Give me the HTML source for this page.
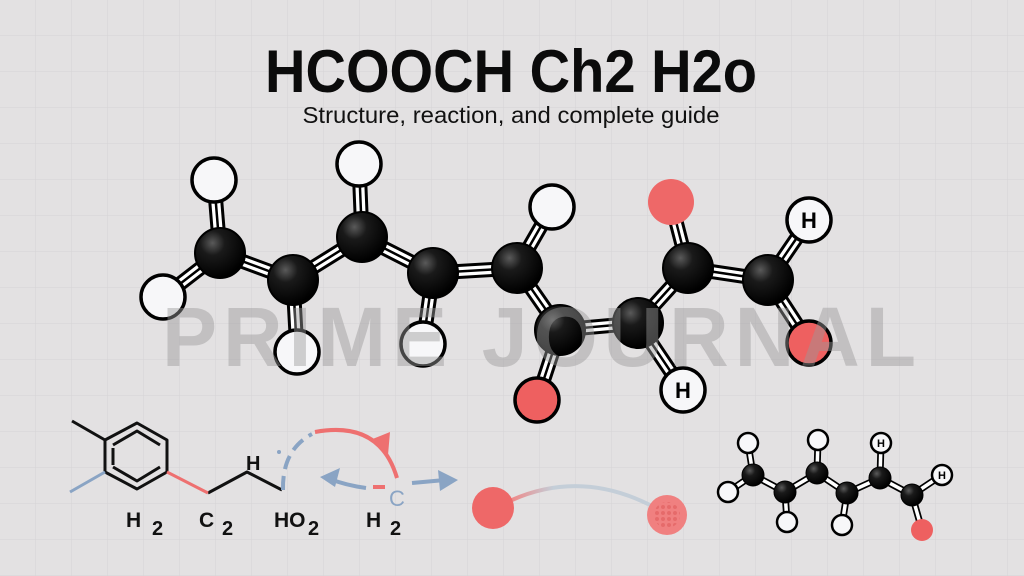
<!DOCTYPE html>
<html><head><meta charset="utf-8"><style>
html,body{margin:0;padding:0;background:#e3e1e2;}
svg{display:block}
</style></head><body>
<svg width="1024" height="576" viewBox="0 0 1024 576" xmlns="http://www.w3.org/2000/svg">
<defs>
<pattern id="g" width="36" height="36" patternUnits="userSpaceOnUse"><path d="M36 0V36M0 36H36" stroke="#d6d4d5" stroke-width="1" fill="none"/></pattern>
<radialGradient id="cb" cx="0.35" cy="0.3" r="0.7"><stop offset="0" stop-color="#5a5a5a"/><stop offset="0.35" stop-color="#1a1a1a"/><stop offset="1" stop-color="#000"/></radialGradient>
<linearGradient id="arcg" x1="0" x2="1"><stop offset="0" stop-color="#ee8a8a"/><stop offset="0.3" stop-color="#c4ced8"/><stop offset="1" stop-color="#c4ced8"/></linearGradient>
<pattern id="dots" width="6" height="6" patternUnits="userSpaceOnUse"><circle cx="3" cy="3" r="2" fill="#e66a6a"/></pattern>
</defs>
<rect width="1024" height="576" fill="#e3e1e2"/>
<rect width="1024" height="576" fill="url(#g)"/>
<text x="511" y="92" text-anchor="middle" font-family="Liberation Sans, sans-serif" font-weight="bold" font-size="60" textLength="492" lengthAdjust="spacingAndGlyphs" fill="#0b0b0b">HCOOCH Ch2 H2o</text>
<text x="511" y="123" text-anchor="middle" font-family="Liberation Sans, sans-serif" font-size="23" textLength="417" lengthAdjust="spacingAndGlyphs" fill="#111">Structure, reaction, and complete guide</text>

<!-- big molecule bonds -->
<g stroke-linecap="round" fill="none">
<g stroke="#000" stroke-width="15">
<path d="M220 253L214 180M220 253L163 297M220 253L293 280L362 237L433 273L517 268L560 330L638 323L688 268L768 280M293 280L297 352M362 237L359 164M433 273L423 344M517 268L552 207M560 330L537 400M638 323L683 390M688 268L671 202M768 280L809 220M768 280L809 343"/>
</g>
<g stroke="#fff" stroke-width="9">
<path d="M220 253L214 180M220 253L163 297M220 253L293 280L362 237L433 273L517 268L560 330L638 323L688 268L768 280M293 280L297 352M362 237L359 164M433 273L423 344M517 268L552 207M560 330L537 400M638 323L683 390M688 268L671 202M768 280L809 220M768 280L809 343"/>
</g>
<g stroke="#000" stroke-width="2.5">
<path d="M220 253L214 180M220 253L163 297M220 253L293 280L362 237L433 273L517 268L560 330L638 323L688 268L768 280M293 280L297 352M362 237L359 164M433 273L423 344M517 268L552 207M560 330L537 400M638 323L683 390M688 268L671 202M768 280L809 220M768 280L809 343"/>
</g>
</g>
<g stroke="#000" stroke-width="3.5" fill="#f7f7f9">
<circle cx="214" cy="180" r="22"/><circle cx="163" cy="297" r="22"/><circle cx="297" cy="352" r="22"/>
<circle cx="359" cy="164" r="22"/><circle cx="423" cy="344" r="22"/><circle cx="552" cy="207" r="22"/>
<circle cx="683" cy="390" r="22"/><circle cx="809" cy="220" r="22"/>
<circle cx="537" cy="400" r="22" fill="#ee6060"/><circle cx="809" cy="343" r="22" fill="#ee6060"/>
</g>
<circle cx="671" cy="202" r="23" fill="#ee6868"/>
<g fill="url(#cb)" stroke="#000" stroke-width="2">
<circle cx="220" cy="253" r="25"/><circle cx="293" cy="280" r="25"/><circle cx="362" cy="237" r="25"/><circle cx="433" cy="273" r="25"/><circle cx="517" cy="268" r="25"/><circle cx="560" cy="330" r="25"/><circle cx="638" cy="323" r="25"/><circle cx="688" cy="268" r="25"/><circle cx="768" cy="280" r="25"/>
</g>
<g font-family="Liberation Sans, sans-serif" font-weight="bold" font-size="22" text-anchor="middle" fill="#000">
<text x="683" y="398">H</text><text x="809" y="228">H</text>
</g>
<text x="542" y="366" text-anchor="middle" font-family="Liberation Sans, sans-serif" font-weight="bold" font-size="84" letter-spacing="6" textLength="760" lengthAdjust="spacingAndGlyphs" fill="#9a9a9a" fill-opacity="0.45">PRIME JOURNAL</text>

<!-- bottom left structure -->
<g fill="none" stroke="#111" stroke-width="3" stroke-linejoin="round">
<path d="M72 421L105 440"/>
<path d="M105 440L137 423L167 440L167 472L137 489L105 472Z"/>
<path d="M113 445L137 431L160 445M160 467L137 481L113 467M113 448V465"/>
<path d="M208 493L247 472L282 490"/>
</g>
<path d="M105 472L70 492" stroke="#8aa4c4" stroke-width="3"/>
<path d="M167 472L208 493" stroke="#ee7070" stroke-width="3"/>
<g font-family="Liberation Sans, sans-serif" font-weight="bold" fill="#111">
<text x="246" y="470" font-size="20">H</text>
<text x="126" y="527" font-size="21">H</text><text x="152" y="535" font-size="20">2</text>
<text x="199" y="527" font-size="21">C</text><text x="222" y="535" font-size="20">2</text>
<text x="274" y="527" font-size="21">HO</text><text x="308" y="535" font-size="20">2</text>
<text x="366" y="527" font-size="21">H</text><text x="390" y="535" font-size="20">2</text>
</g>
<path d="M283 490Q282 450 312 434" fill="none" stroke="#8aa4c4" stroke-width="4" stroke-dasharray="14 7"/>
<circle cx="279" cy="452" r="2" fill="#8aa4c4"/>
<path d="M315 432Q380 420 397 478" fill="none" stroke="#ee7070" stroke-width="4"/>
<path d="M370 440L390 432L388 455Z" fill="#ee7070"/>
<path d="M366 488Q345 485 330 479" fill="none" stroke="#8aa4c4" stroke-width="4"/>
<path d="M320 477L340 468L335 487Z" fill="#8aa4c4"/>
<path d="M373 487H385" stroke="#ee7070" stroke-width="4"/>
<text x="389" y="506" font-family="Liberation Sans, sans-serif" font-size="22" fill="#8aa4c4">C</text>
<path d="M412 483L445 480" stroke="#8aa4c4" stroke-width="4"/>
<path d="M458 480L438 470L440 491Z" fill="#8aa4c4"/>

<!-- bottom middle -->
<path d="M512 500Q580 470 650 505" fill="none" stroke="url(#arcg)" stroke-width="4"/>
<circle cx="493" cy="508" r="21" fill="#ee6868"/>
<circle cx="667" cy="515" r="20" fill="#f08080"/>
<circle cx="667" cy="515" r="13" fill="url(#dots)"/>

<!-- small molecule -->
<g stroke-linecap="round" fill="none">
<g stroke="#000" stroke-width="7"><path d="M753 475L748 443M753 475L728 492M753 475L785 492L817 473L847 493L880 478L912 495M785 492L787 522M817 473L818 440M847 493L842 525M880 478L881 443M912 495L942 475M912 495L922 530"/></g>
<g stroke="#fff" stroke-width="3.5"><path d="M753 475L748 443M753 475L728 492M753 475L785 492L817 473L847 493L880 478L912 495M785 492L787 522M817 473L818 440M847 493L842 525M880 478L881 443M912 495L942 475M912 495L922 530"/></g>
</g>
<g stroke="#000" stroke-width="2.5" fill="#f7f7f9">
<circle cx="748" cy="443" r="10"/><circle cx="728" cy="492" r="10"/><circle cx="787" cy="522" r="10"/><circle cx="818" cy="440" r="10"/><circle cx="842" cy="525" r="10"/><circle cx="881" cy="443" r="10"/><circle cx="942" cy="475" r="10"/>
</g>
<circle cx="922" cy="530" r="11" fill="#ee6060"/>
<g fill="url(#cb)" stroke="#000" stroke-width="1">
<circle cx="753" cy="475" r="11"/><circle cx="785" cy="492" r="11"/><circle cx="817" cy="473" r="11"/><circle cx="847" cy="493" r="11"/><circle cx="880" cy="478" r="11"/><circle cx="912" cy="495" r="11"/>
</g>
<g font-family="Liberation Sans, sans-serif" font-weight="bold" font-size="11" text-anchor="middle"><text x="881" y="447">H</text><text x="942" y="479">H</text></g>
</svg>
</body></html>
